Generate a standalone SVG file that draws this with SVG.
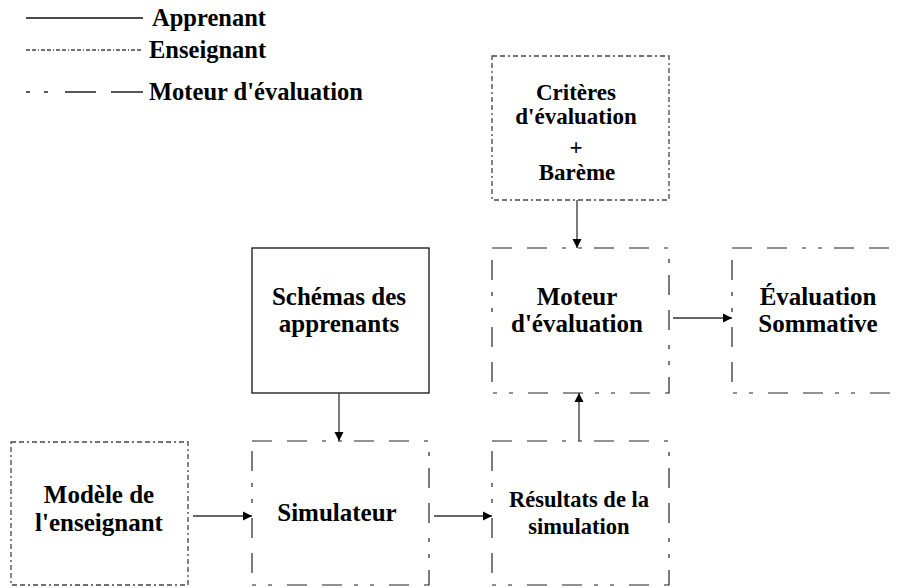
<svg xmlns="http://www.w3.org/2000/svg" width="897" height="588" viewBox="0 0 897 588">
<style>
  text { font-family: "Liberation Serif", "Times New Roman", serif; font-weight: bold; fill: #000; text-anchor: middle; }
  .t25 { font-size: 25px; }
  .t23 { font-size: 23px; }
  .t22 { font-size: 22.5px; }
  .leg { font-size: 24.5px; text-anchor: start; }
  .solid { fill: none; stroke: #111; stroke-width: 1.3; }
  .dotted { fill: none; stroke: #444; stroke-width: 1.3; stroke-dasharray: 5 3 5 3 2 3; }
  .dashdot { fill: none; stroke: #222; stroke-width: 1.2; stroke-dasharray: 20 15 20 15 4 12 4 12; }
  .conn { fill: none; stroke: #333; stroke-width: 1.3; marker-end: url(#arr); }
</style>
<defs>
  <marker id="arr" markerWidth="10" markerHeight="10" refX="9" refY="5" orient="auto" markerUnits="userSpaceOnUse">
    <path d="M0,0.5 L9,5 L0,9.5 z" fill="#000"/>
  </marker>
</defs>
<rect width="897" height="588" fill="#fff"/>

<g id="legend">
  <line x1="26" y1="18" x2="143" y2="18" stroke="#111" stroke-width="1.3"/>
  <text class="leg" x="152" y="26">Apprenant</text>
  <line x1="26" y1="50" x2="143" y2="50" stroke="#444" stroke-width="1.3" stroke-dasharray="4 2 4 2 1 2"/>
  <text class="leg" x="149" y="58">Enseignant</text>
  <line x1="26" y1="92" x2="143" y2="92" stroke="#222" stroke-width="1.3" stroke-dasharray="4 14 4 17 31 15 32"/>
  <text class="leg" x="149" y="100">Moteur d'évaluation</text>
</g>

<g id="criteres">
  <rect class="dotted" x="492" y="56" width="177" height="144"/>
  <text class="t23" x="576" y="100">Critères</text>
  <text class="t23" x="576" y="124">d'évaluation</text>
  <text class="t23" x="576" y="155">+</text>
  <text class="t23" x="577" y="180">Barème</text>
</g>

<g id="schemas">
  <rect class="solid" x="252" y="248" width="177" height="145"/>
  <text class="t25" x="339" y="305">Schémas des</text>
  <text class="t25" x="339" y="332">apprenants</text>
</g>

<g id="moteur">
  <rect class="dashdot" x="492" y="248" width="177" height="145"/>
  <text class="t25" x="577" y="305">Moteur</text>
  <text class="t25" x="577" y="332">d'évaluation</text>
</g>

<g id="evaluation">
  <rect class="dashdot" x="732" y="248" width="177" height="145"/>
  <text class="t25" x="818" y="305">Évaluation</text>
  <text class="t25" x="818" y="332">Sommative</text>
</g>

<g id="modele">
  <rect class="dotted" x="11" y="442" width="177" height="143"/>
  <text class="t25" x="99" y="503">Modèle de</text>
  <text class="t25" x="99" y="531">l'enseignant</text>
</g>

<g id="simulateur">
  <rect class="dashdot" x="252" y="441" width="177" height="144"/>
  <text class="t25" x="337" y="521">Simulateur</text>
</g>

<g id="resultats">
  <rect class="dashdot" x="492" y="441" width="177" height="144"/>
  <text class="t22" x="579" y="507">Résultats de la</text>
  <text class="t22" x="579" y="534">simulation</text>
</g>

<g id="connectors">
  <line class="conn" x1="577" y1="200" x2="577" y2="248"/>
  <line class="conn" x1="339" y1="393" x2="339" y2="441"/>
  <line class="conn" x1="579" y1="441" x2="579" y2="393"/>
  <line class="conn" x1="673" y1="318" x2="732" y2="318"/>
  <line class="conn" x1="193" y1="516" x2="252" y2="516"/>
  <line class="conn" x1="434" y1="516" x2="492" y2="516"/>
</g>
</svg>
